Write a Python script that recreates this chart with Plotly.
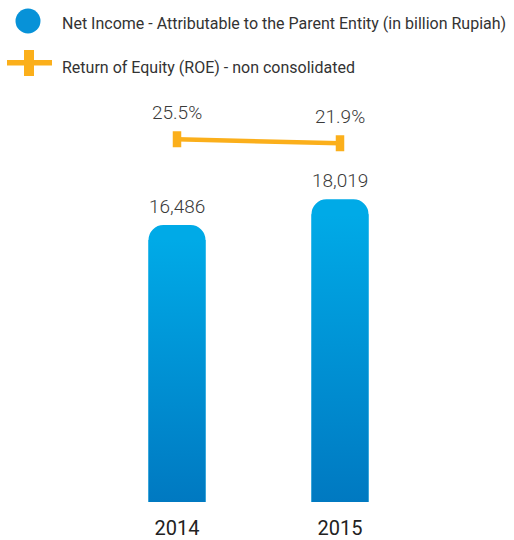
import plotly.graph_objects as go

# Data
years = ["2014", "2015"]
net_income = [16486, 18019]          # billion Rupiah
roe = [25.5, 21.9]                   # percent, non consolidated

legend_income = "Net Income - Attributable to the Parent Entity (in billion Rupiah)"
legend_roe = "Return of Equity (ROE) - non consolidated"

# Styling
W, H = 514, 540
BLUE_TOP = "#00AAE7"
BLUE_BOTTOM = "#0079C1"
ORANGE = "#FBAF1B"
FONT = "Roboto, 'Open Sans', sans-serif"
BAR_WIDTH = 0.35
CORNER_PX = 15

positions = list(range(len(years)))

# plot area in pixels (figure has zero margins; domains carry the layout)
plot_left, plot_right = 95.5, 421.5
plot_top, plot_bottom = 100, 502
y_max = 23931
y2_range = [-293.0, 59.9]

fig = go.Figure()

# bars with rounded tops
fig.add_trace(go.Bar(
    x=positions, y=net_income, width=BAR_WIDTH,
    marker=dict(color=BLUE_TOP, line=dict(width=0)),
    hoverinfo="skip", showlegend=False,
))

# vertical gradient over the straight part of each bar
units_per_px = y_max / (plot_bottom - plot_top)
corner_units = CORNER_PX * units_per_px
for p, v in zip(positions, net_income):
    x0, x1 = p - BAR_WIDTH / 2, p + BAR_WIDTH / 2
    top = v - corner_units
    fig.add_trace(go.Scatter(
        x=[x0, x1, x1, x0, x0], y=[0, 0, top, top, 0],
        mode="none", fill="toself",
        fillgradient=dict(type="vertical",
                          colorscale=[[0, BLUE_BOTTOM], [1, BLUE_TOP]]),
        hoverinfo="skip", showlegend=False,
    ))

# ROE line on secondary axis
fig.add_trace(go.Scatter(
    x=positions, y=roe, yaxis="y2", mode="lines+markers",
    line=dict(color=ORANGE, width=4.5),
    marker=dict(symbol="line-ns", size=11.5,
                line=dict(color=ORANGE, width=8.5)),
    hoverinfo="skip", showlegend=False,
))

value_font = dict(family=FONT, size=19, color="#3a3a3a", weight=300)

annotations = []
for p, v in zip(positions, net_income):
    annotations.append(dict(
        x=p, y=v, xref="x", yref="y", text=f"{v:,}", showarrow=False,
        xanchor="center", yanchor="middle", yshift=18.5, font=value_font,
    ))
for p, v in zip(positions, roe):
    annotations.append(dict(
        x=p, y=v, xref="x", yref="y2", text=f"{v}%", showarrow=False,
        xanchor="center", yanchor="middle", yshift=27, font=value_font,
    ))

# legend drawn in figure pixels
def px(x):
    return x / W

def py(y):
    return (H - y) / H

legend_font = dict(family=FONT, size=16, color="#333333")
annotations += [
    dict(x=px(60), y=py(23.5), xref="paper", yref="paper", text=legend_income,
         showarrow=False, xanchor="left", yanchor="middle", font=legend_font),
    dict(x=px(60), y=py(68), xref="paper", yref="paper", text=legend_roe,
         showarrow=False, xanchor="left", yanchor="middle", font=legend_font),
]

shapes = [
    dict(type="circle", xref="paper", yref="paper",
         x0=px(15.5), x1=px(40.5), y0=py(33.5), y1=py(8.5),
         fillcolor="#0792D8", line=dict(width=0)),
    dict(type="rect", xref="paper", yref="paper",
         x0=px(7), x1=px(52), y0=py(65.5), y1=py(60),
         fillcolor=ORANGE, line=dict(width=0)),
    dict(type="rect", xref="paper", yref="paper",
         x0=px(24), x1=px(34), y0=py(76), y1=py(50),
         fillcolor=ORANGE, line=dict(width=0)),
]

fig.update_layout(
    width=W, height=H,
    margin=dict(l=0, r=0, t=0, b=0),
    paper_bgcolor="white", plot_bgcolor="white",
    barcornerradius=CORNER_PX,
    showlegend=False,
    xaxis=dict(
        domain=[px(plot_left), px(plot_right)],
        range=[-0.5, len(years) - 0.5],
        tickvals=positions, ticktext=years,
        showgrid=False, zeroline=False, showline=False, ticks="",
        ticklabelstandoff=12,
        tickfont=dict(family=FONT, size=20, color="#222222"),
        fixedrange=True,
    ),
    yaxis=dict(
        domain=[py(plot_bottom), py(plot_top)],
        range=[0, y_max], visible=False, fixedrange=True,
    ),
    yaxis2=dict(
        domain=[py(plot_bottom), py(plot_top)],
        overlaying="y", range=y2_range, visible=False, fixedrange=True,
    ),
    annotations=annotations,
    shapes=shapes,
)

fig.write_html("out.html")
